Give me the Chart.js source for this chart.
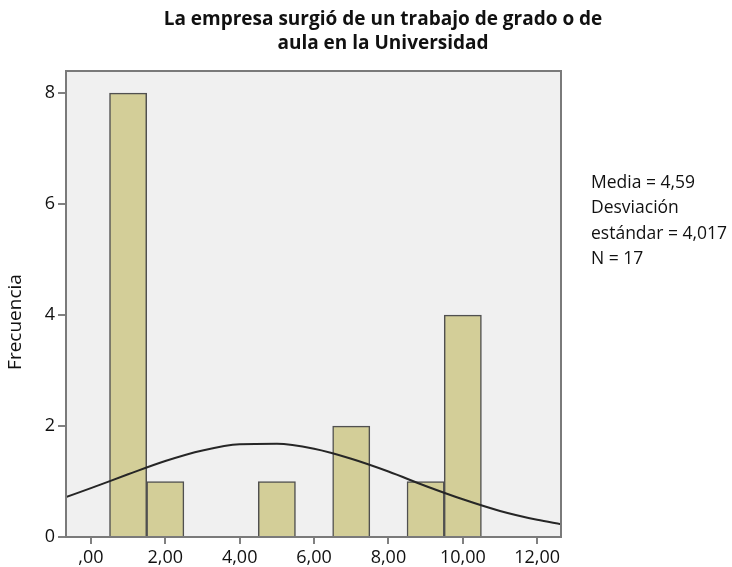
<!DOCTYPE html>
<html>
<head>
<meta charset="utf-8">
<script src="https://cdn.jsdelivr.net/npm/chart.js@4/dist/chart.umd.min.js"></script>
<style>
  html, body { margin: 0; padding: 0; background: #ffffff; }
  #wrap { position: relative; width: 732px; height: 567px; }
  canvas { display: block; }
</style>
</head>
<body>
<div id="wrap"><canvas id="c" width="732" height="567"></canvas></div>
<script>
// ---- data ----
const titleLines = ["La empresa surgió de un trabajo de grado o de", "aula en la Universidad"];
const binCenters = [1, 2, 5, 7, 9, 10];
const frequencies = [8, 1, 1, 2, 1, 4];
const curveX = [-0.67, 0, 1, 2, 3, 4, 5, 6, 7, 8, 9, 10, 11, 12, 12.64];
const curveY = [0.72, 0.88, 1.13, 1.37, 1.56, 1.67, 1.68, 1.59, 1.41, 1.18, 0.92, 0.68, 0.47, 0.31, 0.23];
const xTickValues = [0, 2, 4, 6, 8, 10, 12];
const xTickLabels = [",00", "2,00", "4,00", "6,00", "8,00", "10,00", "12,00"];
const yTickValues = [0, 2, 4, 6, 8];
const statsLines = ["Media = 4,59", "Desviación", "estándar = 4,017", "N = 17"];
const yAxisTitle = "Frecuencia";

const FONT = "'Open Sans', 'Noto Sans', sans-serif";

const frame = {
  id: 'frame',
  beforeDatasetsDraw(chart) {
    const {ctx, chartArea: a} = chart;
    ctx.save();
    ctx.fillStyle = '#f0f0f0';
    ctx.fillRect(a.left, a.top, a.right - a.left, a.bottom - a.top);
    ctx.restore();
  },
  afterDraw(chart) {
    const {ctx, chartArea: a} = chart;
    ctx.save();
    ctx.strokeStyle = '#7a7a7a';
    ctx.lineWidth = 2;
    ctx.strokeRect(a.left, a.top, a.right - a.left, a.bottom - a.top);
    ctx.fillStyle = '#111';
    ctx.textAlign = 'center';
    ctx.textBaseline = 'middle';
    ctx.font = "bold 19px " + FONT;
    titleLines.forEach((t, i) => ctx.fillText(t, 383, 20 + i * 24));
    ctx.textAlign = 'left';
    ctx.font = "17.5px " + FONT;
    statsLines.forEach((t, i) => ctx.fillText(t, 591, 183 + i * 25.5));
    ctx.save();
    ctx.translate(16, 322);
    ctx.rotate(-Math.PI / 2);
    ctx.textAlign = 'center';
    ctx.font = "19px " + FONT;
    ctx.fillText(yAxisTitle, 0, 0);
    ctx.restore();
    ctx.restore();
  }
};

new Chart(document.getElementById('c'), {
  type: 'bar',
  data: {
    datasets: [
      {
        type: 'line',
        data: curveX.map((x, i) => ({x: x, y: curveY[i]})),
        borderColor: '#262626',
        borderWidth: 2,
        pointRadius: 0,
        tension: 0.4,
        cubicInterpolationMode: 'monotone',
        fill: false,
        order: 0
      },
      {
        type: 'bar',
        data: binCenters.map((x, i) => ({x: x, y: frequencies[i]})),
        backgroundColor: '#d3ce98',
        borderColor: '#505050',
        borderWidth: 1.5,
        barPercentage: 1,
        categoryPercentage: 1,
        order: 1
      }
    ]
  },
  plugins: [frame],
  options: {
    responsive: false,
    animation: false,
    layout: { padding: { left: 0, right: 171, top: 71, bottom: 0 } },
    plugins: { legend: { display: false }, tooltip: { enabled: false }, title: { display: false } },
    scales: {
      x: {
        type: 'linear',
        offset: false,
        min: -0.67,
        max: 12.64,
        afterBuildTicks(s) { s.ticks = xTickValues.map(v => ({value: v})); },
        afterFit(s) { s.height = 30; },
        ticks: {
          callback(v) { const i = xTickValues.indexOf(v); return i >= 0 ? xTickLabels[i] : ''; },
          color: '#111', font: { size: 18, family: FONT }, padding: 3, maxRotation: 0, autoSkip: false
        },
        grid: { offset: false, drawOnChartArea: false, drawTicks: true, tickLength: 7, color: '#808080', lineWidth: 2 },
        border: { display: true, color: '#7a7a7a', width: 2 }
      },
      y: {
        type: 'linear',
        min: 0,
        max: 8.4,
        afterBuildTicks(s) { s.ticks = yTickValues.map(v => ({value: v})); },
        afterFit(s) { s.width = 66; },
        ticks: { color: '#111', font: { size: 18, family: FONT }, padding: 3 },
        grid: { drawOnChartArea: false, drawTicks: true, tickLength: 8, color: '#808080', lineWidth: 2 },
        border: { display: true, color: '#7a7a7a', width: 2 }
      }
    }
  }
});
</script>
</body>
</html>
